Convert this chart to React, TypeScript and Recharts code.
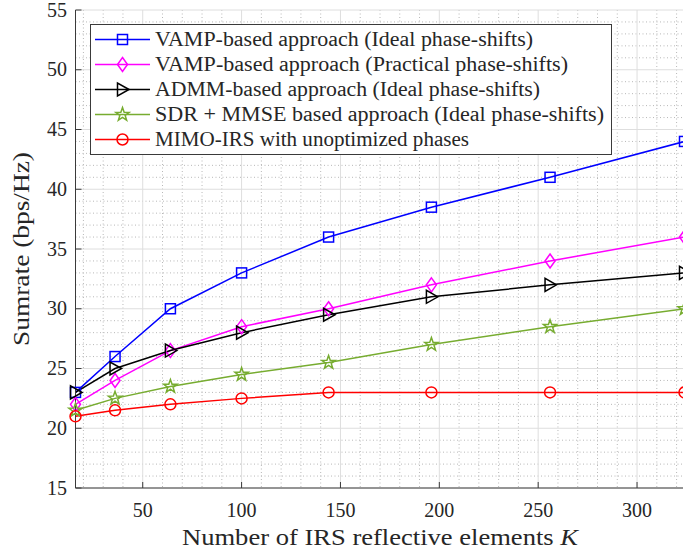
import React from 'react';
import { LineChart, Line, XAxis, YAxis, CartesianGrid, Legend } from 'recharts';

// ---------- data ----------
const kValues = [16, 36, 64, 100, 144, 196, 256, 324];
const vampIdeal = [23, 26, 30, 33, 36, 38.5, 41, 44];
const vampPractical = [22, 24, 26.5, 28.5, 30, 32, 34, 36];
const admmIdeal = [23, 25, 26.5, 28, 29.5, 31, 32, 33];
const sdrMmse = [21.5, 22.5, 23.5, 24.5, 25.5, 27, 28.5, 30];
const unoptimized = [21, 21.5, 22, 22.5, 23, 23, 23, 23];

const xTicks = [50, 100, 150, 200, 250, 300];
const yTicks = [15, 20, 25, 30, 35, 40, 45, 50, 55];
const xMinorTicks = [20, 30, 40, 60, 70, 80, 90, 110, 120, 130, 140, 160, 170, 180, 190, 210, 220, 230, 240, 260, 270, 280, 290, 310, 320];
const yMinorTicks = [16, 17, 18, 19, 21, 22, 23, 24, 26, 27, 28, 29, 31, 32, 33, 34, 36, 37, 38, 39, 41, 42, 43, 44, 46, 47, 48, 49, 51, 52, 53, 54];
const xDomain = [16, 324];
const yDomain = [15, 55];

const seriesNames = [
  'VAMP-based approach (Ideal phase-shifts)',
  'VAMP-based approach (Practical phase-shifts)',
  'ADMM-based approach (Ideal phase-shifts)',
  'SDR + MMSE based approach (Ideal phase-shifts)',
  'MIMO-IRS with unoptimized phases',
];
const seriesValues = [vampIdeal, vampPractical, admmIdeal, sdrMmse, unoptimized];

// ---------- style ----------
const seriesStyle = [
  { key: 's1', color: '#0000ff', marker: 'square', textLength: 378 },
  { key: 's2', color: '#ff00ff', marker: 'diamond', textLength: 413 },
  { key: 's3', color: '#000000', marker: 'triangle', textLength: 385 },
  { key: 's4', color: '#77ac30', marker: 'star', textLength: 449 },
  { key: 's5', color: '#ff0000', marker: 'circle', textLength: 314 },
];

const FONT = '"Liberation Serif", "DejaVu Serif", serif';
const AXIS = '#3a3a3a';
const TEXT = '#262626';

const data = kValues.map((k, i) => {
  const row: Record<string, number> = { k };
  seriesStyle.forEach((s, j) => {
    row[s.key] = seriesValues[j][i];
  });
  return row;
});

function starPoints(cx: number, cy: number, ro: number, ri: number) {
  const pts: string[] = [];
  for (let i = 0; i < 10; i++) {
    const r = i % 2 === 0 ? ro : ri;
    const a = -Math.PI / 2 + (i * Math.PI) / 5;
    pts.push(`${cx + r * Math.cos(a)},${cy + r * Math.sin(a)}`);
  }
  return pts.join(' ');
}

function Marker({ kind, cx, cy, color }: { kind: string; cx: number; cy: number; color: string }) {
  const common = { fill: 'none', stroke: color, strokeWidth: 1.5 };
  switch (kind) {
    case 'square':
      return <rect x={cx - 5} y={cy - 5} width={10} height={10} {...common} />;
    case 'diamond':
      return <polygon points={`${cx},${cy - 7} ${cx + 5},${cy} ${cx},${cy + 7} ${cx - 5},${cy}`} {...common} />;
    case 'triangle':
      return <polygon points={`${cx + 6.5},${cy} ${cx - 5},${cy - 6.5} ${cx - 5},${cy + 6.5}`} {...common} />;
    case 'star':
      return <polygon points={starPoints(cx, cy, 7, 2.8)} {...common} />;
    case 'circle':
    default:
      return <circle cx={cx} cy={cy} r={5.5} {...common} />;
  }
}

// ---------- ticks ----------
const BottomTick = (props: any) => {
  const { x, y, payload } = props;
  return (
    <g>
      <line x1={x} x2={x} y1={y} y2={y - 6} stroke={AXIS} strokeWidth={1} />
      <text x={x} y={y + 28.5} textAnchor="middle" fontFamily={FONT} fontSize={20} fill={TEXT}>
        {payload.value}
      </text>
    </g>
  );
};
const TopTick = (props: any) => {
  const { x, y } = props;
  return <line x1={x} x2={x} y1={y} y2={y + 6} stroke={AXIS} strokeWidth={1} />;
};
const LeftTick = (props: any) => {
  const { x, y, payload } = props;
  return (
    <g>
      <line x1={x} x2={x + 6} y1={y} y2={y} stroke={AXIS} strokeWidth={1} />
      <text x={x - 8.5} y={y + 6.5} textAnchor="end" fontFamily={FONT} fontSize={20} fill={TEXT}>
        {payload.value}
      </text>
    </g>
  );
};
const RightTick = (props: any) => {
  const { x, y } = props;
  return <line x1={x} x2={x - 6} y1={y} y2={y} stroke={AXIS} strokeWidth={1} />;
};

const XLabel = (props: any) => {
  const vb = props.viewBox || {};
  const cx = vb.x + vb.width / 2;
  return (
    <text x={cx} y={vb.y + 57} textAnchor="middle" fontFamily={FONT} fontSize={23} fill={TEXT} textLength={396} lengthAdjust="spacingAndGlyphs">
      Number of IRS reflective elements <tspan fontStyle="italic">K</tspan>
    </text>
  );
};
const YLabel = (props: any) => {
  const vb = props.viewBox || {};
  const cy = vb.y + vb.height / 2;
  const bx = 28.5;
  return (
    <text x={bx} y={cy} transform={`rotate(-90 ${bx} ${cy})`} textAnchor="middle" fontFamily={FONT} fontSize={23} fill={TEXT} textLength={194} lengthAdjust="spacingAndGlyphs">
      Sumrate (bps/Hz)
    </text>
  );
};

// ---------- legend ----------
const LegendBox = () => (
  <svg width={523} height={132} style={{ display: 'block' }}>
    <rect x={0.5} y={0.5} width={521} height={130} fill="#ffffff" stroke={AXIS} strokeWidth={1} />
    {seriesStyle.map((s, i) => {
      const cy = 15.5 + i * 25;
      return (
        <g key={s.key}>
          <line x1={5} x2={60} y1={cy} y2={cy} stroke={s.color} strokeWidth={1.5} />
          <Marker kind={s.marker} cx={32.5} cy={cy} color={s.color} />
          <text x={65} y={cy + 6.5} fontFamily={FONT} fontSize={20} fill={TEXT} textLength={s.textLength} lengthAdjust="spacingAndGlyphs">
            {seriesNames[i]}
          </text>
        </g>
      );
    })}
  </svg>
);

export default function App() {
  return (
    <div style={{ position: 'absolute', left: 0, top: 0, width: 683, height: 555, overflow: 'hidden', background: '#ffffff' }}>
      <LineChart width={700} height={555} data={data} margin={{ top: 10, right: 15.5, bottom: 0, left: 0 }}>
        <CartesianGrid
          verticalValues={xMinorTicks}
          horizontalValues={yMinorTicks}
          stroke="#b8b8b8"
          strokeWidth={1}
          strokeDasharray="1 2.5"
        />
        <CartesianGrid stroke="#dedede" strokeWidth={1} />
        <XAxis
          dataKey="k"
          type="number"
          domain={xDomain}
          ticks={xTicks}
          interval={0}
          height={67}
          tickSize={0}
          tickMargin={0}
          tick={BottomTick}
          axisLine={{ stroke: AXIS, strokeWidth: 1 }}
          tickLine={false}
          label={XLabel}
        />
        <XAxis
          xAxisId="top"
          orientation="top"
          dataKey="k"
          type="number"
          domain={xDomain}
          ticks={xTicks}
          interval={0}
          height={0}
          tickSize={0}
          tickMargin={0}
          tick={TopTick}
          axisLine={{ stroke: AXIS, strokeWidth: 1 }}
          tickLine={false}
        />
        <YAxis
          type="number"
          domain={yDomain}
          ticks={yTicks}
          interval={0}
          width={75.5}
          tickSize={0}
          tickMargin={0}
          tick={LeftTick}
          axisLine={{ stroke: AXIS, strokeWidth: 1 }}
          tickLine={false}
          label={YLabel}
        />
        <YAxis
          yAxisId="right"
          orientation="right"
          type="number"
          domain={yDomain}
          ticks={yTicks}
          interval={0}
          width={0}
          tickSize={0}
          tickMargin={0}
          tick={RightTick}
          axisLine={{ stroke: AXIS, strokeWidth: 1 }}
          tickLine={false}
        />
        {seriesStyle.map((s, i) => (
          <Line
            key={s.key}
            dataKey={s.key}
            name={seriesNames[i]}
            stroke={s.color}
            strokeWidth={1.5}
            isAnimationActive={false}
            dot={(p: any) => <Marker key={`${s.key}-${p.index}`} kind={s.marker} cx={p.cx} cy={p.cy} color={s.color} />}
            activeDot={false}
          />
        ))}
        <Legend
          layout="vertical"
          align="center"
          verticalAlign="middle"
          wrapperStyle={{ position: 'absolute', left: 90, top: 23.5, width: 523, height: 132 }}
          content={() => <LegendBox />}
        />
      </LineChart>
    </div>
  );
}
